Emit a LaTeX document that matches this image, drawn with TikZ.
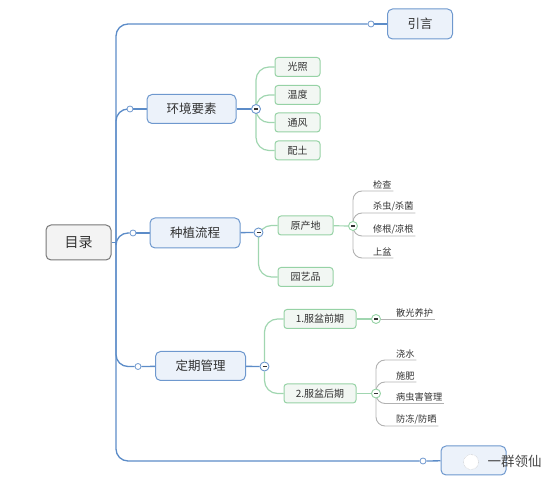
\documentclass[tikz,border=0pt]{standalone}
\usepackage{fontspec}
\setmainfont{Noto Sans CJK SC}
\usepackage{tikz}
\usetikzlibrary{calc,backgrounds}

\definecolor{topicline}{RGB}{110,152,206}
\definecolor{topicfill}{RGB}{236,242,250}
\definecolor{subline}{RGB}{150,210,165}
\definecolor{subfill}{RGB}{242,247,243}
\definecolor{rootline}{RGB}{120,120,120}
\definecolor{rootfill}{RGB}{243,243,243}
\definecolor{trunkcol}{RGB}{92,140,200}
\definecolor{greencol}{RGB}{160,214,176}
\definecolor{leafcol}{RGB}{178,178,178}
\definecolor{inkcol}{RGB}{50,50,50}

\begin{document}
\begin{tikzpicture}[x=1pt,y=-1pt,
    rootbox/.style={draw=rootline,fill=rootfill,line width=1pt,rounded corners=5pt,
      minimum width=65pt,minimum height=35pt,text=inkcol,font=\fontsize{14}{16}\selectfont},
    topic/.style={draw=topicline,fill=topicfill,line width=1pt,rounded corners=5pt,
      minimum width=89pt,minimum height=29pt,text=inkcol,font=\fontsize{12.5}{14}\selectfont},
    subtopic/.style={draw=subline,fill=subfill,line width=1pt,rounded corners=3pt,
      minimum height=19pt,inner xsep=2pt,text=inkcol,font=\fontsize{10}{12}\selectfont},
    leaf/.style={anchor=south west,inner sep=1.5pt,text=inkcol,font=\fontsize{9.2}{11}\selectfont},
    knob/.style={circle,draw=topicline,fill=white,line width=0.8pt,inner sep=0pt,minimum size=6pt},
    fold/.style={circle,draw=#1,fill=white,line width=0.9pt,inner sep=0pt,minimum size=9pt,
      path picture={\draw[inkcol,line width=1.1pt] ([xshift=-2pt]path picture bounding box.center)
        -- ([xshift=2pt]path picture bounding box.center);}},
    trunkline/.style={draw=trunkcol,line width=1.3pt,rounded corners=12pt},
    greenline/.style={draw=greencol,line width=1.2pt,rounded corners=13pt},
    leafline/.style={draw=leafcol,line width=0.9pt,rounded corners=9pt}]
  \useasboundingbox (0,0) rectangle (558,486);

  % root and main topics
  \node[rootbox] (root) at (78.5,242.5) {目录};
  \coordinate (hub) at (116,242.5);
  \node[topic,minimum width=65pt,minimum height=30pt] (intro) at (420,24) {引言};
  \node[knob] (kTop) at (371,24) {};
  \node[topic] (env) at (191.5,109) {环境要素};
  \node[knob] (k1) at (130,109) {};
  \node[topic,minimum width=90pt,minimum height=30pt] (grow) at (195,233) {种植流程};
  \node[knob] (k2) at (133,233) {};
  \node[topic,minimum width=90pt] (care) at (200.5,366) {定期管理};
  \node[knob] (k3) at (138,366.5) {};
  \node[topic,minimum width=65pt] (outro) at (473.5,460.5) {};
  \node[knob] (kBot) at (423,461) {};

  \node[fold=topicline] (m1) at (256,109) {};
  \node[fold=topicline] (m2) at (258.5,232.5) {};
  \node[fold=topicline] (m3) at (264.5,366.5) {};

  % environment
  \node[subtopic,minimum width=45pt] (g1) at (297.5,67) {光照};
  \node[subtopic,minimum width=45pt] (g2) at (297.5,95) {温度};
  \node[subtopic,minimum width=45pt] (g3) at (297.5,122.5) {通风};
  \node[subtopic,minimum width=45pt] (g4) at (297.5,150.5) {配土};

  % planting
  \node[subtopic,minimum width=55pt] (origin) at (305.5,225.5) {原产地};
  \node[subtopic,minimum width=55pt] (garden) at (305.5,277) {园艺品};
  \node[fold=subline] (m4) at (353,226) {};
  \node[leaf] (l1) at (371.5,191) {检查};
  \node[leaf] (l2) at (371.5,213) {杀虫/杀菌};
  \node[leaf] (l3) at (371.5,236) {修根/凉根};
  \node[leaf] (l4) at (371.5,258) {上盆};

  % care
  \node[subtopic,minimum width=72pt] (early) at (320,319) {1.服盆前期};
  \node[subtopic,minimum width=72pt] (late) at (320,393.5) {2.服盆后期};
  \node[fold=subline] (m5) at (376,319) {};
  \node[fold=subline] (m6) at (376,393.5) {};
  \node[leaf] (l5) at (394.5,319) {散光养护};
  \node[leaf] (l6) at (394.5,360) {浇水};
  \node[leaf] (l7) at (394.5,382) {施肥};
  \node[leaf] (l8) at (394.5,403.5) {病虫害管理};
  \node[leaf] (l9) at (394.5,426) {防冻/防晒};

  % watermark over the last topic
  \node[circle,draw=leafcol,densely dotted,fill=white,inner sep=0pt,minimum size=15pt] (wxicon) at (471,462) {};
  \node[text=inkcol!90,font=\fontsize{13.5}{15}\selectfont,inner sep=1pt] (mark) at (514.5,461.5) {一群领仙};

  \begin{scope}[on background layer]
    \draw[trunkline] (root) -- (hub);
    \draw[trunkline] (hub) |- (kTop);
    \draw[trunkline] (hub) |- (kBot);
    \draw[trunkline] (hub) |- (k1);
    \draw[trunkline] (hub) |- (k2);
    \draw[trunkline] (hub) |- (k3);
    \draw[trunkline] (kTop) -- (intro);
    \draw[trunkline] (kBot) -- (outro);
    \draw[trunkline] (k1) -- (env);
    \draw[trunkline] (k2) -- (grow);
    \draw[trunkline] (k3) -- (care);
    \draw[trunkline] (env) -- (m1);
    \draw[trunkline] (grow) -- (m2);
    \draw[trunkline] (care) -- (m3);
    \draw[greenline] (m1) |- (g1.west);
    \draw[greenline] (m1) |- (g2.west);
    \draw[greenline] (m1) |- (g3.west);
    \draw[greenline] (m1) |- (g4.west);
    \draw[greenline] (m2) |- (origin.west);
    \draw[greenline] (m2) |- (garden.west);
    \draw[greenline] (m3) |- (early.west);
    \draw[greenline] (m3) |- (late.west);
    \draw[greenline] (origin) -- (m4);
    \draw[greenline] (early) -- (m5);
    \draw[greenline] (late) -- (m6);
    \draw[leafline] (m4) |- (l1.south east);
    \draw[leafline] (m4) |- (l2.south east);
    \draw[leafline] (m4) |- (l3.south east);
    \draw[leafline] (m4) |- (l4.south east);
    \draw[leafline] (m5) -- (l5.south east);
    \draw[leafline] (m6) |- (l6.south east);
    \draw[leafline] (m6) |- (l7.south east);
    \draw[leafline] (m6) |- (l8.south east);
    \draw[leafline] (m6) |- (l9.south east);
  \end{scope}
\end{tikzpicture}
\end{document}
